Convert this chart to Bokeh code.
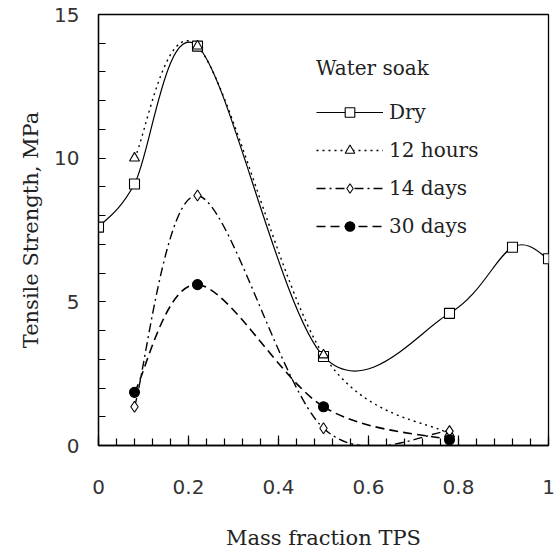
from bokeh.plotting import figure
from bokeh.models import Range1d, FixedTicker, Legend, LegendItem
from bokeh.embed import file_html
from bokeh.resources import INLINE

# ---- data ----
dry_x = [0.0, 0.08, 0.22, 0.50, 0.78, 0.92, 1.0]
dry_y = [7.6, 9.1, 13.9, 3.1, 4.6, 6.9, 6.5]
soak_x = [0.08, 0.22, 0.50, 0.78]
hours12_y = [10.0, 13.9, 3.15, 0.4]
days14_y = [1.35, 8.7, 0.6, 0.5]
days30_y = [1.85, 5.6, 1.35, 0.2]
series_names = ["Dry", "12 hours", "14 days", "30 days"]
x_ticks = [0.0, 0.2, 0.4, 0.6, 0.8, 1.0]
x_tick_labels = ["0", "0.2", "0.4", "0.6", "0.8", "1"]
x_minor = [0.04 * i for i in range(26)]
y_ticks = [0, 5, 10, 15]
y_minor = list(range(16))


def smooth_segments(xs, ys):
    """Cubic Bezier segments through the points (Excel-style smoothing)."""
    n = len(xs)
    seg = dict(x0=[], y0=[], x1=[], y1=[], cx0=[], cy0=[], cx1=[], cy1=[])
    for i in range(n - 1):
        a = max(i - 1, 0)
        d = min(i + 2, n - 1)
        seg["x0"].append(xs[i]); seg["y0"].append(ys[i])
        seg["x1"].append(xs[i + 1]); seg["y1"].append(ys[i + 1])
        seg["cx0"].append(xs[i] + (xs[i + 1] - xs[a]) / 6.0)
        seg["cy0"].append(ys[i] + (ys[i + 1] - ys[a]) / 6.0)
        seg["cx1"].append(xs[i + 1] - (xs[d] - xs[i]) / 6.0)
        seg["cy1"].append(ys[i + 1] - (ys[d] - ys[i]) / 6.0)
    return seg


p = figure(width=557, height=552, output_backend="svg", toolbar_location=None,
           x_range=Range1d(0, 1), y_range=Range1d(0, 15),
           min_border_left=98, min_border_right=9, min_border_top=14,
           min_border_bottom=102)
p.xgrid.visible = False
p.ygrid.visible = False
p.outline_line_color = "black"
p.outline_line_width = 1.3
p.background_fill_color = "white"
p.border_fill_color = "white"

styles = [
    # x, y, dash, width, marker, fill, size
    (dry_x, dry_y, "solid", 1.2, "square", "white", 10),
    (soak_x, hours12_y, "2 4", 1.4, "triangle", "white", 10),
    (soak_x, days14_y, "9 4 2 4", 1.4, "diamond", "white", 11),
    (soak_x, days30_y, "9 5", 1.6, "circle", "black", 10),
]

# curves first
for xs, ys, dash, lw, *_ in styles:
    p.bezier(source=smooth_segments(xs, ys), x0="x0", y0="y0", x1="x1", y1="y1",
             cx0="cx0", cy0="cy0", cx1="cx1", cy1="cy1",
             line_color="black", line_width=lw, line_dash=dash)

# markers on top
marker_renderers = []
for xs, ys, dash, lw, marker, fill, size in styles:
    marker_renderers.append(
        p.scatter(x=xs, y=ys, marker=marker, size=size, fill_color=fill,
                  line_color="black", line_width=1.1))

# legend (line samples use a renderer holding no drawable point)
nan = float("nan")
items = []
for name, (xs, ys, dash, lw, marker, fill, size), sr in zip(series_names, styles, marker_renderers):
    lr = p.line(x=[nan], y=[nan], line_color="black", line_width=lw, line_dash=dash)
    items.append(LegendItem(label=name, renderers=[lr, sr]))

legend = Legend(items=items, title="Water soak", location=(218, 204),
                border_line_color=None, background_fill_alpha=0,
                padding=0, margin=0, glyph_width=67, glyph_height=24,
                label_height=30, spacing=8, label_standoff=6,
                label_text_font="DejaVu Serif", label_text_font_size="20px",
                label_text_color="#222222",
                title_text_font="DejaVu Serif", title_text_font_size="20px",
                title_text_font_style="normal", title_text_color="#222222",
                title_standoff=17)
p.add_layout(legend, "center")

# axes
xa = p.xaxis[0]
xa.ticker = FixedTicker(ticks=x_ticks, minor_ticks=x_minor)
xa.major_label_overrides = dict(zip(x_ticks, x_tick_labels))
xa.axis_label = "Mass fraction TPS"
xa.major_tick_in = 10
xa.major_tick_out = 0
xa.minor_tick_in = 7
xa.minor_tick_out = 0
xa.major_label_standoff = 34
xa.axis_label_standoff = 29

ya = p.yaxis[0]
ya.ticker = FixedTicker(ticks=y_ticks, minor_ticks=y_minor)
ya.axis_label = "Tensile Strength, MPa"
ya.major_tick_in = 7
ya.major_tick_out = 0
ya.minor_tick_in = 7
ya.minor_tick_out = 0
ya.major_label_standoff = 19
ya.axis_label_standoff = 8
ya.major_label_orientation = "horizontal"

for ax in (xa, ya):
    ax.axis_line_color = "black"
    ax.axis_line_width = 1.3
    ax.major_tick_line_color = "black"
    ax.minor_tick_line_color = "black"
    ax.major_tick_line_width = 1.2
    ax.minor_tick_line_width = 1.2
    ax.major_label_text_font = "DejaVu Sans"
    ax.major_label_text_font_size = "20px"
    ax.major_label_text_color = "#333333"
    ax.axis_label_text_font = "DejaVu Serif"
    ax.axis_label_text_font_size = "21px"
    ax.axis_label_text_font_style = "normal"
    ax.axis_label_text_color = "#222222"

open("out.html", "w").write(file_html(p, INLINE))
